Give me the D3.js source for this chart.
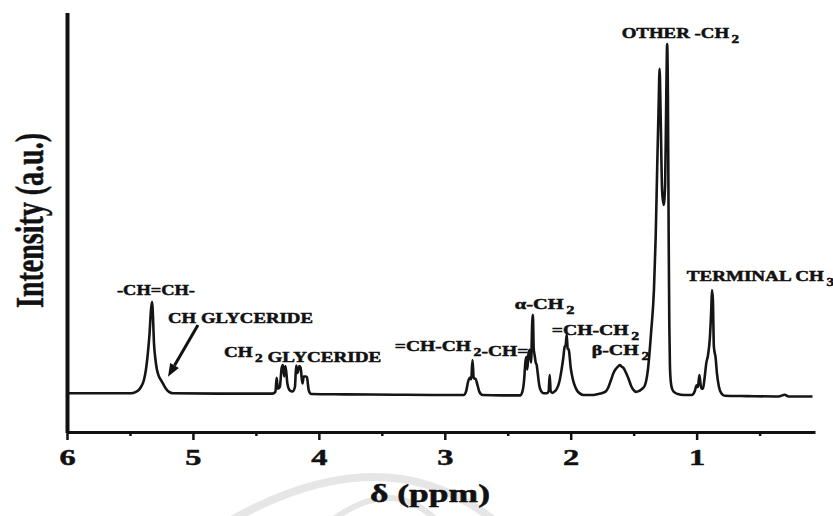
<!DOCTYPE html>
<html>
<head>
<meta charset="utf-8">
<script src="https://cdn.jsdelivr.net/npm/d3@7"></script>
<style>
  html, body { margin: 0; padding: 0; background: #fff; }
  svg { display: block; }
  text { font-family: "Liberation Serif", "Times New Roman", serif; font-weight: bold; fill: #111; stroke: #111; stroke-width: 0.5px; }
</style>
</head>
<body>
<svg id="chart" width="833" height="516"></svg>
<script>
// 1H NMR spectrum of an oil: chemical shift (ppm) and intensity (a.u., tallest line = 100)
const shiftPpm = [
  6.00, 5.70, 5.50, 5.476, 5.437, 5.413, 5.389, 5.373, 5.357, 5.345, 5.333, 5.325, 5.317, 5.310,
  5.298, 5.286, 5.270, 5.254, 5.238, 5.214, 5.190, 5.159, 4.80, 4.50, 4.37,
  4.345, 4.335, 4.325, 4.31, 4.295, 4.285, 4.275, 4.265, 4.25, 4.23, 4.21, 4.19, 4.18, 4.17,
  4.155, 4.145, 4.13, 4.12, 4.105, 4.095, 4.08, 4.06,
  3.80, 3.40, 3.10, 2.85, 2.83, 2.815, 2.80, 2.79, 2.78, 2.77, 2.755, 2.74, 2.725, 2.70, 2.55,
  2.40, 2.38, 2.37, 2.36, 2.352, 2.345, 2.335, 2.325, 2.315, 2.305, 2.300, 2.294, 2.286, 2.278,
  2.270, 2.262, 2.25, 2.235, 2.215, 2.19, 2.175, 2.167, 2.159, 2.145, 2.125,
  2.11, 2.09, 2.075, 2.06, 2.048, 2.04, 2.032, 2.024, 2.015, 2.00, 1.985, 1.97, 1.95, 1.925, 1.90,
  1.82, 1.78, 1.75, 1.72, 1.70, 1.68, 1.66, 1.645, 1.625, 1.611, 1.595, 1.58, 1.56, 1.54, 1.52,
  1.50, 1.48, 1.46, 1.44, 1.413, 1.387, 1.36, 1.339, 1.325, 1.313, 1.302, 1.294, 1.286, 1.274,
  1.262, 1.250, 1.241, 1.234, 1.228, 1.222, 1.217, 1.212, 1.205, 1.195, 1.18, 1.15, 1.10,
  1.04, 1.015, 1.00, 0.99, 0.978, 0.968, 0.958, 0.950, 0.937, 0.923, 0.910, 0.895, 0.884, 0.878,
  0.871, 0.863, 0.849, 0.839, 0.823, 0.804, 0.778, 0.60, 0.35, 0.30, 0.27, 0.08
];
const intensity = [
  0.2, 0.2, 0.2, 0.3, 0.9, 2, 4, 7, 12, 17, 24, 26.3, 22, 15,
  10, 7, 5, 4, 3, 1.5, 0.6, 0.2, 0.1, 0.1, 0.1,
  0.6, 4.6, 1.5, 2, 7.5, 8.3, 5, 8.0, 3, 1, 0.7, 2, 8.1, 6,
  8.0, 7.5, 3, 5, 5.0, 4.8, 1, 0,
  -0.1, -0.2, -0.3, -0.3, 0.8, 3.5, 4.6, 4.2, 9.7, 4.5, 4.3, 2.5, 0.6, -0.3, -0.4,
  -0.4, 1.2, 4, 9, 10.6, 7, 11.5, 12.6, 9, 21, 22.6, 13, 11, 9,
  8.3, 6, 2.5, 0.8, 0.2, 0.2, 0.8, 5.4, 0.8, 0.3, 0.8,
  1.5, 3.5, 6.4, 10, 13.5, 14, 16.9, 13, 12.6, 7.5, 4.5, 2.6, 1.0, 0.1, -0.3,
  -0.3, 0, 0.3, 0.8, 2, 4, 6, 7, 7.8, 8.3, 7.8, 7.4, 6, 4.3, 2.3,
  1.1, 0.6, 0.8, 1.3, 2.3, 6.9, 18.3, 29.7, 45, 65, 82, 92.9, 80, 58,
  54, 60, 85, 100, 85, 45, 20, 8, 3.5, 1.5, 0.6, 0, -0.3,
  -0.3, 0.8, 2.5, 2, 5.4, 2.5, 1.5, 1.5, 4.5, 8.9, 11, 16, 24, 29.7,
  27, 13.5, 10.3, 6, 2.1, 0.2, -0.5, -0.6, -0.7, -0.2, -0.7, -0.7
];

const majorTicks = [6, 5, 4, 3, 2, 1];
const minorTicks = [5.5, 4.5, 3.5, 2.5, 1.5, 0.5];

// peak assignments ("_n" marks a subscript digit)
const peakNames = ["-CH=CH-", "CH GLYCERIDE", "CH_2 GLYCERIDE", "=CH-CH_2-CH=", "α-CH_2",
                   "=CH-CH_2", "β-CH_2", "OTHER -CH_2", "TERMINAL CH_3"];
// label placement: left edge (ppm), baseline (intensity units), printed width (px)
const labelAt = [
  { ppm: 5.603, level: 28.4, width: 78 },
  { ppm: 5.198, level: 20.4, width: 145 },
  { ppm: 4.754, level: 10.6, width: 155 },
  { ppm: 3.397, level: 12.3, width: 131 },
  { ppm: 2.444, level: 24.4, width: 57 },
  { ppm: 2.151, level: 17.0, width: 85 },
  { ppm: 1.833, level: 11.1, width: 55 },
  { ppm: 1.595, level: 101.8, width: 115 },
  { ppm: 1.079, level: 32.4, width: 145 }
];

const svg = d3.select("#chart");

const x = d3.scaleLinear().domain([6, 0.06]).range([67, 815]);
const y = d3.scaleLinear().domain([-11, 109]).range([432.5, 12.5]);

// faint circular watermark bands along the bottom edge
const wm = svg.append("g").attr("fill", "none").attr("stroke", "#e6e6e6");
wm.append("path").attr("d", "M228,522 Q385,432 496,522").attr("stroke-width", 8);
wm.append("path").attr("d", "M330,522 Q392,474 438,522").attr("stroke-width", 6);

// spectrum trace
const points = shiftPpm.map((p, i) => [p, intensity[i]]);
const line = d3.line()
  .x(d => x(d[0]))
  .y(d => y(d[1]))
  .curve(d3.curveMonotoneX);

svg.append("path")
  .datum(points)
  .attr("d", line)
  .attr("fill", "none")
  .attr("stroke", "#151515")
  .attr("stroke-width", 2.6)
  .attr("stroke-linejoin", "round");

// x axis (chemical shift, reversed)
const xAxisG = svg.append("g")
  .attr("transform", "translate(0,432)")
  .call(d3.axisBottom(x).tickValues(majorTicks).tickSize(8).tickSizeOuter(0).tickFormat(d3.format("d")));
xAxisG.select(".domain").attr("stroke", "#111").attr("stroke-width", 3);
xAxisG.selectAll(".tick line").attr("stroke", "#111").attr("stroke-width", 2.5);
xAxisG.selectAll(".tick text")
  .attr("y", 16)
  .attr("font-size", 24)
  .attr("font-family", "Liberation Serif, serif")
  .attr("font-weight", "bold")
  .attr("fill", "#111")
  .attr("stroke", "#111")
  .attr("stroke-width", 0.9)
  .attr("transform", "scale(1.35,1)");

const minorG = svg.append("g")
  .attr("transform", "translate(0,432)")
  .call(d3.axisBottom(x).tickValues(minorTicks).tickSize(4).tickSizeOuter(0).tickFormat(""));
minorG.select(".domain").remove();
minorG.selectAll(".tick line").attr("stroke", "#111").attr("stroke-width", 2.5);

// y axis: a bare vertical rule
const yAxisG = svg.append("g")
  .attr("transform", "translate(67,0)")
  .call(d3.axisLeft(y).tickValues([]).tickSizeOuter(0));
yAxisG.select(".domain").attr("stroke", "#111").attr("stroke-width", 4);

// axis titles
svg.append("text")
  .attr("transform", "translate(43,220.5) rotate(-90)")
  .attr("text-anchor", "middle")
  .attr("font-size", 40)
  .attr("stroke-width", 0.8)
  .attr("textLength", 175)
  .attr("lengthAdjust", "spacingAndGlyphs")
  .text("Intensity (a.u.)");

svg.append("text")
  .attr("x", 430)
  .attr("y", 502)
  .attr("text-anchor", "middle")
  .attr("font-size", 26)
  .attr("stroke-width", 0.8)
  .attr("textLength", 120)
  .attr("lengthAdjust", "spacingAndGlyphs")
  .text("δ (ppm)");

// peak labels
peakNames.forEach((name, i) => {
  const at = labelAt[i];
  const g = svg.append("g");
  const t = g.append("text").attr("font-size", 15).attr("stroke-width", 0.6);
  const parts = name.split(/_(\d)/);
  parts.forEach((part, k) => {
    if (!part) return;
    if (k % 2 === 1) {
      t.append("tspan").attr("font-size", 12).attr("dx", 2).attr("dy", 5).text(part);
      t.append("tspan").attr("dy", -5).text("");
    } else {
      t.append("tspan").text(part);
    }
  });
  const w = t.node().getComputedTextLength();
  g.attr("transform", `translate(${x(at.ppm)},${y(at.level)}) scale(${at.width / w},1)`);
});

// arrow pointing at the CH glyceride shoulder
const arrowFrom = [4.960, 19.7];
const arrowTo = [5.198, 4.9];
const x0 = x(arrowFrom[0]), y0 = y(arrowFrom[1]);
const x1 = x(arrowTo[0]), y1 = y(arrowTo[1]);
const ang = Math.atan2(y1 - y0, x1 - x0);
const headLen = 13, headHalf = 5;
const bx = x1 - headLen * Math.cos(ang), by = y1 - headLen * Math.sin(ang);
svg.append("line")
  .attr("x1", x0).attr("y1", y0).attr("x2", bx).attr("y2", by)
  .attr("stroke", "#111").attr("stroke-width", 3);
svg.append("path")
  .attr("d", `M${x1},${y1}L${bx + headHalf * Math.sin(ang)},${by - headHalf * Math.cos(ang)}L${bx - headHalf * Math.sin(ang)},${by + headHalf * Math.cos(ang)}Z`)
  .attr("fill", "#111");
</script>
</body>
</html>
